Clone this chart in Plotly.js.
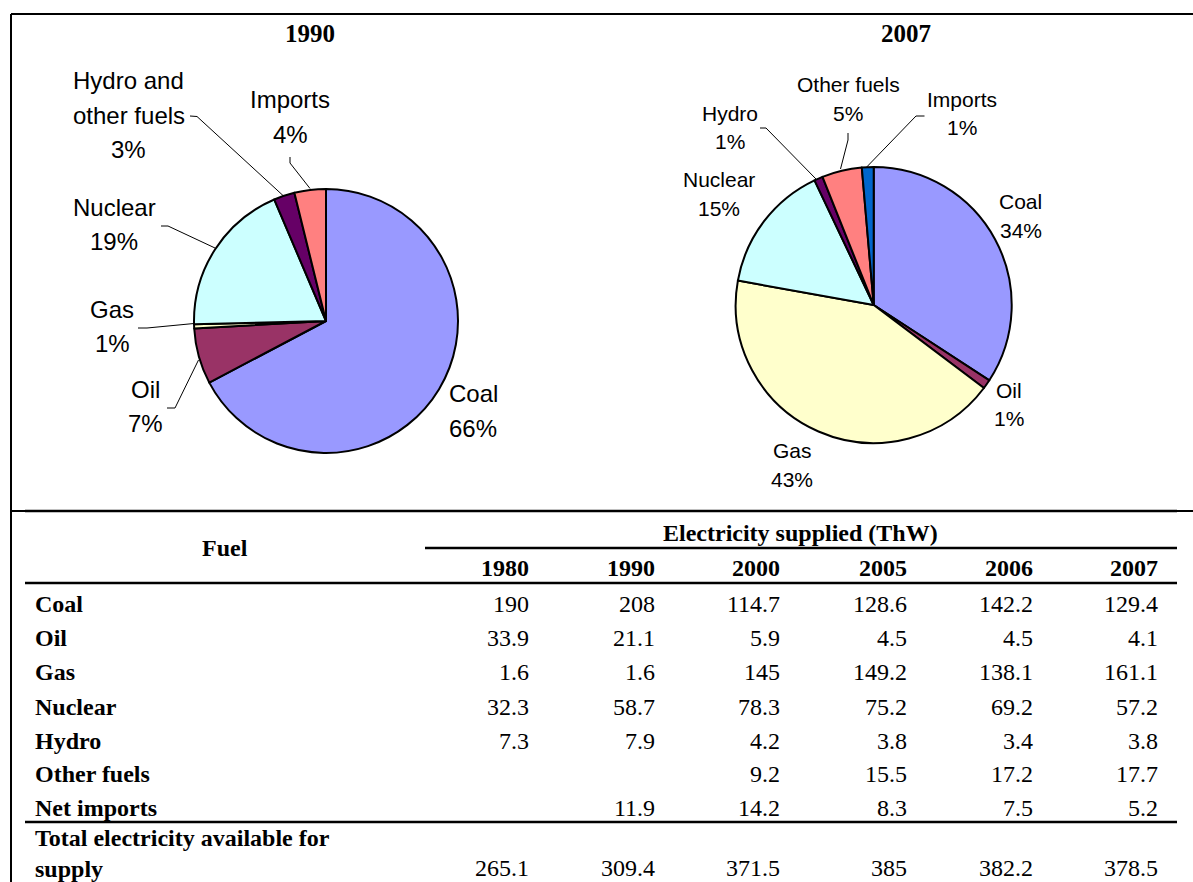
<!DOCTYPE html>
<html>
<head>
<meta charset="utf-8">
<script src="https://cdn.plot.ly/plotly-3.0.1.min.js"></script>
<style>
  html, body { margin: 0; padding: 0; background: #fff; }
  #chart { width: 1193px; height: 882px; }
</style>
</head>
<body>
<div id="chart"></div>
<script>
// ---------------- DATA ----------------
// Pie 1990
const pie1990Labels = ['Coal', 'Oil', 'Gas', 'Nuclear', 'Hydro and other fuels', 'Imports'];
const pie1990Values = [208, 21.1, 1.6, 58.7, 7.9, 11.9];
const pie1990Text   = ['Coal', 'Oil', 'Gas', 'Nuclear', 'Hydro and\nother fuels', 'Imports'];
const pie1990Pct    = ['66%', '7%', '1%', '19%', '3%', '4%'];

// Pie 2007
const pie2007Labels = ['Coal', 'Oil', 'Gas', 'Nuclear', 'Hydro', 'Other fuels', 'Imports'];
const pie2007Values = [129.4, 4.1, 161.1, 57.2, 3.8, 17.7, 5.2];
const pie2007Text   = ['Coal', 'Oil', 'Gas', 'Nuclear', 'Hydro', 'Other fuels', 'Imports'];
const pie2007Pct    = ['34%', '1%', '43%', '15%', '1%', '5%', '1%'];

const pieTitles = ['1990', '2007'];

// Table
const tableHeaderFuel = 'Fuel';
const tableHeaderGroup = 'Electricity supplied (ThW)';
const tableYears = ['1980', '1990', '2000', '2005', '2006', '2007'];
const tableFuels = ['Coal', 'Oil', 'Gas', 'Nuclear', 'Hydro', 'Other fuels', 'Net imports'];
const rowCoal       = [190, 208, 114.7, 128.6, 142.2, 129.4];
const rowOil        = [33.9, 21.1, 5.9, 4.5, 4.5, 4.1];
const rowGas        = [1.6, 1.6, 145, 149.2, 138.1, 161.1];
const rowNuclear    = [32.3, 58.7, 78.3, 75.2, 69.2, 57.2];
const rowHydro      = [7.3, 7.9, 4.2, 3.8, 3.4, 3.8];
const rowOtherFuels = [null, null, 9.2, 15.5, 17.2, 17.7];
const rowNetImports = [null, 11.9, 14.2, 8.3, 7.5, 5.2];
const totalLabel    = 'Total electricity available for supply';
const rowTotal      = [265.1, 309.4, 371.5, 385, 382.2, 378.5];

// ---------------- STYLE / LAYOUT ----------------
const W = 1193, H = 882;
const px = x => x / W;
const py = y => 1 - y / H;

const colors1990 = ['#9999FF', '#993366', '#FFFFCC', '#CCFFFF', '#660066', '#FF8080'];
const colors2007 = ['#9999FF', '#993366', '#FFFFCC', '#CCFFFF', '#660066', '#FF8080', '#0066CC'];

const SANS = 'Liberation Sans, Arial, sans-serif';
const SERIF = 'Liberation Serif, Times New Roman, serif';

// pie geometry (pixels): center and radius
const pieGeom = [
  {cx: 326, cy: 321, r: 132},
  {cx: 873.7, cy: 305, r: 138}
];
function domainOf(g) {
  return {
    x: [px(g.cx - g.r), px(g.cx + g.r)],
    y: [py(g.cy + g.r), py(g.cy - g.r)]
  };
}

const traces = [
  {
    type: 'pie', labels: pie1990Labels, values: pie1990Values,
    sort: false, direction: 'clockwise', rotation: 0,
    textinfo: 'none', hoverinfo: 'label+percent', showlegend: false,
    marker: {colors: colors1990, line: {color: '#000', width: 2}},
    domain: domainOf(pieGeom[0])
  },
  {
    type: 'pie', labels: pie2007Labels, values: pie2007Values,
    sort: false, direction: 'clockwise', rotation: 0,
    textinfo: 'none', hoverinfo: 'label+percent', showlegend: false,
    marker: {colors: colors2007, line: {color: '#000', width: 2}},
    domain: domainOf(pieGeom[1])
  }
];

const annotations = [];
const shapes = [];

function addText(text, x, y, opts) {
  annotations.push(Object.assign({
    text: text, x: px(x), y: py(y), xref: 'paper', yref: 'paper',
    showarrow: false, xanchor: 'center', yanchor: 'middle',
    font: {family: SANS, size: 20, color: '#000'}
  }, opts || {}));
}
function addLine(x0, y0, x1, y1, w) {
  shapes.push({type: 'line', xref: 'paper', yref: 'paper',
    x0: px(x0), y0: py(y0), x1: px(x1), y1: py(y1),
    line: {color: '#000', width: w}});
}
function addPath(pts, w) {
  const d = pts.map((p, i) => (i ? 'L' : 'M') + px(p[0]) + ',' + py(p[1])).join(' ');
  shapes.push({type: 'path', xref: 'paper', yref: 'paper', path: d,
    line: {color: '#000', width: w}});
}

// Titles
const titlePos = [[310, 33], [906, 33]];
pieTitles.forEach((t, i) => addText('<b>' + t + '</b>', titlePos[i][0], titlePos[i][1],
  {font: {family: SERIF, size: 25, color: '#000'}}));

// Pie labels (block centers in pixels)
const labelPos1990 = [[473.4, 410.8], [145.4, 406.7], [112, 326.3], [114, 224.5], [128.5, 115.5], [290, 116.8]];
const labelPos2007 = [[1021, 216], [1009, 404.5], [792, 465], [719, 194], [730, 127.5], [848, 99], [961.6, 113.5]];

function addPieLabels(texts, pcts, pos, size, spacing) {
  texts.forEach((t, i) => {
    const lines = t.split('\n').concat([pcts[i]]);
    const n = lines.length;
    lines.forEach((ln, j) => {
      addText(ln, pos[i][0], pos[i][1] + (j - (n - 1) / 2) * spacing,
        {font: {family: SANS, size: size, color: '#000'}});
    });
  });
}
addPieLabels(pie1990Text, pie1990Pct, labelPos1990, 24, 34.5);
addPieLabels(pie2007Text, pie2007Pct, labelPos2007, 21, 28.3);

// Leader lines
const leaders = [
  [[190, 116], [197, 116.5], [283, 195.5]],   // 1990 hydro & other
  [[290, 157], [290, 163], [310, 188.5]],     // 1990 imports
  [[161, 226], [168, 226], [215, 248]],       // 1990 nuclear
  [[138, 328], [147, 328], [194, 323.5]],     // 1990 gas
  [[167, 408], [175, 408], [198.5, 360]],     // 1990 oil
  [[848, 133], [848, 140], [840.5, 169]],     // 2007 other fuels
  [[760, 128], [766, 128], [816, 179]],       // 2007 hydro
  [[924.5, 116], [916, 116], [866.7, 167]]    // 2007 imports
];
leaders.forEach(p => addPath(p, 1));

// Box border
addLine(11, 14, 11, 882, 2);
addLine(11, 14, 1193, 14, 2);
addLine(11, 511, 1193, 511, 2);

// Table rules
addLine(25, 511, 1177, 511, 2.5);
addLine(425, 548, 1177, 548, 2.5);
addLine(25, 583, 1177, 583, 2.5);
addLine(25, 822, 1177, 822, 2.5);

// Table text
const TS = 24;
const colRight = [531, 657, 782, 909, 1035, 1160];
addText('<b>' + tableHeaderFuel + '</b>', 225, 548, {font: {family: SERIF, size: TS, color: '#000'}});
addText('<b>' + tableHeaderGroup + '</b>', 800, 533, {font: {family: SERIF, size: TS, color: '#000'}});
tableYears.forEach((y, i) => addText('<b>' + y + '</b>', colRight[i], 568,
  {xanchor: 'right', font: {family: SERIF, size: TS, color: '#000'}}));

const dataRows = [rowCoal, rowOil, rowGas, rowNuclear, rowHydro, rowOtherFuels, rowNetImports];
const rowY = [604, 638, 672, 706.5, 740.5, 774, 807.5];
tableFuels.forEach((f, r) => {
  addText('<b>' + f + '</b>', 33, rowY[r], {xanchor: 'left', font: {family: SERIF, size: TS, color: '#000'}});
  dataRows[r].forEach((v, c) => {
    if (v === null) return;
    addText(String(v), colRight[c], rowY[r], {xanchor: 'right', font: {family: SERIF, size: TS, color: '#000'}});
  });
});
// Total row (label wraps onto two lines)
const totalWords = totalLabel.split(' ');
addText('<b>' + totalWords.slice(0, -1).join(' ') + '</b>', 33, 838, {xanchor: 'left', font: {family: SERIF, size: TS, color: '#000'}});
addText('<b>' + totalWords[totalWords.length - 1] + '</b>', 33, 869, {xanchor: 'left', font: {family: SERIF, size: TS, color: '#000'}});
rowTotal.forEach((v, c) => addText(String(v), colRight[c], 868,
  {xanchor: 'right', font: {family: SERIF, size: TS, color: '#000'}}));

const layout = {
  width: W, height: H,
  margin: {l: 0, r: 0, t: 0, b: 0, pad: 0},
  paper_bgcolor: '#fff', plot_bgcolor: '#fff',
  showlegend: false,
  annotations: annotations,
  shapes: shapes
};

Plotly.newPlot('chart', traces, layout, {displayModeBar: false, staticPlot: true});
</script>
</body>
</html>
